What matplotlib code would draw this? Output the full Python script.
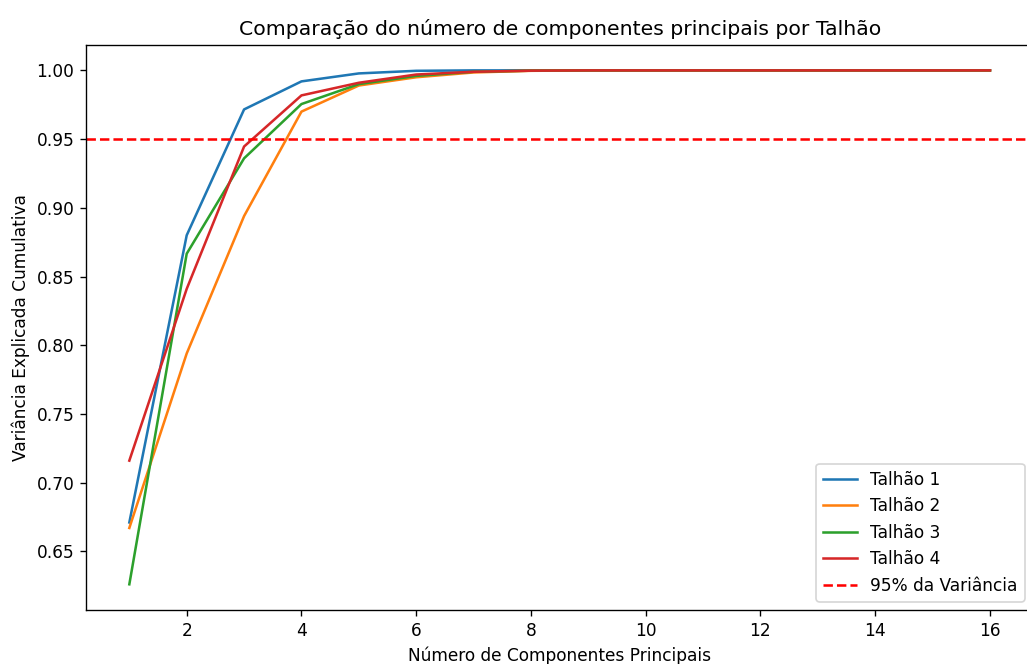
import numpy as np
import matplotlib
matplotlib.use("Agg")
import matplotlib.pyplot as plt

componentes = np.arange(1, 17)

talhao_1 = [0.671, 0.880, 0.9716, 0.992, 0.9978, 0.9997, 1.0, 1.0,
            1.0, 1.0, 1.0, 1.0, 1.0, 1.0, 1.0, 1.0]
talhao_2 = [0.667, 0.794, 0.894, 0.970, 0.989, 0.995, 0.9985, 0.9997,
            1.0, 1.0, 1.0, 1.0, 1.0, 1.0, 1.0, 1.0]
talhao_3 = [0.626, 0.8666, 0.936, 0.9755, 0.990, 0.996, 0.999, 0.9998,
            1.0, 1.0, 1.0, 1.0, 1.0, 1.0, 1.0, 1.0]
talhao_4 = [0.716, 0.841, 0.9446, 0.9818, 0.991, 0.997, 0.999, 0.9998,
            1.0, 1.0, 1.0, 1.0, 1.0, 1.0, 1.0, 1.0]

series = [talhao_1, talhao_2, talhao_3, talhao_4]
nomes = ["Talhão 1", "Talhão 2", "Talhão 3", "Talhão 4"]

dpi = 122
W, H = 1027, 664
fig = plt.figure(figsize=(W / dpi, H / dpi), dpi=dpi)
left, right, top, bottom = 86.3, 1033, 44.7, 610
ax = fig.add_axes([left / W, 1 - bottom / H, (right - left) / W, (bottom - top) / H])

for vals, nome in zip(series, nomes):
    ax.plot(componentes, vals, label=nome)

ax.axhline(y=0.95, color="r", linestyle="--", label="95% da Variância")

ax.set_title("Comparação do número de componentes principais por Talhão")
ax.set_xlabel("Número de Componentes Principais")
ax.set_ylabel("Variância Explicada Cumulativa")
ax.legend(loc="lower right")

fig.savefig("out.png", dpi=dpi)
